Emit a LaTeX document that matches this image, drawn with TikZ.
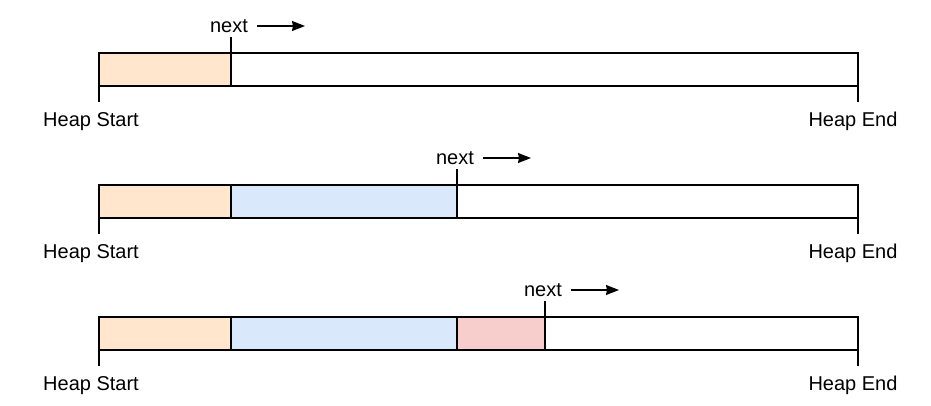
\documentclass[tikz,border=0pt]{standalone}
\usepackage{fontspec}
\setmainfont{Liberation Sans}
\usetikzlibrary{arrows.meta}
\definecolor{orangefill}{HTML}{FFE6CC}
\definecolor{bluefill}{HTML}{DAE8FC}
\definecolor{redfill}{HTML}{F8CECC}
\begin{document}
\begin{tikzpicture}[x=1pt,y=-1pt,
  seg/.style={draw=black,line width=1.4pt,inner sep=0pt,outer sep=0pt,anchor=north west,minimum height=33pt},
  lbl/.style={font=\fontsize{20}{24}\selectfont,inner sep=0pt,anchor=base},
  tick/.style={line width=1.4pt},
  nextarrow/.style={line width=1.4pt,-{Stealth[length=13pt,width=10pt,inset=1pt]}}]
\useasboundingbox (0,0) rectangle (931,405);
% rows
\foreach \r/\top in {1/53,2/185,3/317}{
  \node[seg,minimum width=759pt,fill=white] (bar\r) at (99,\top) {};
  \node[seg,minimum width=132pt,fill=orangefill] (o\r) at (99,\top) {};
  \node[lbl] (hs\r) at (91,\top+73.5) {Heap Start};
  \node[lbl] (he\r) at (853,\top+73.5) {Heap End};
  \coordinate (hsT\r) at (99,\top+49);
  \coordinate (heT\r) at (858,\top+49);
  \draw[tick] (bar\r.south west) -- (hsT\r);
  \draw[tick] (bar\r.south east) -- (heT\r);
}
\node[seg,minimum width=226pt,fill=bluefill] (b2) at (231,185) {};
\node[seg,minimum width=226pt,fill=bluefill] (b3) at (231,317) {};
\node[seg,minimum width=88pt,fill=redfill] (r3) at (457,317) {};
% next pointers
\foreach \r/\top/\nx in {1/53/231,2/185/457,3/317/545}{
  \coordinate (np\r) at (\nx,\top);
  \coordinate (nt\r) at (\nx,\top-16.5);
  \draw[tick] (np\r) -- (nt\r);
  \node[lbl] (next\r) at (\nx-2,\top-20.5) {next};
  \coordinate (as\r) at (\nx+26,\top-27);
  \coordinate (ae\r) at (\nx+74,\top-27);
  \draw[nextarrow] (as\r) -- (ae\r);
}
\end{tikzpicture}
\end{document}
